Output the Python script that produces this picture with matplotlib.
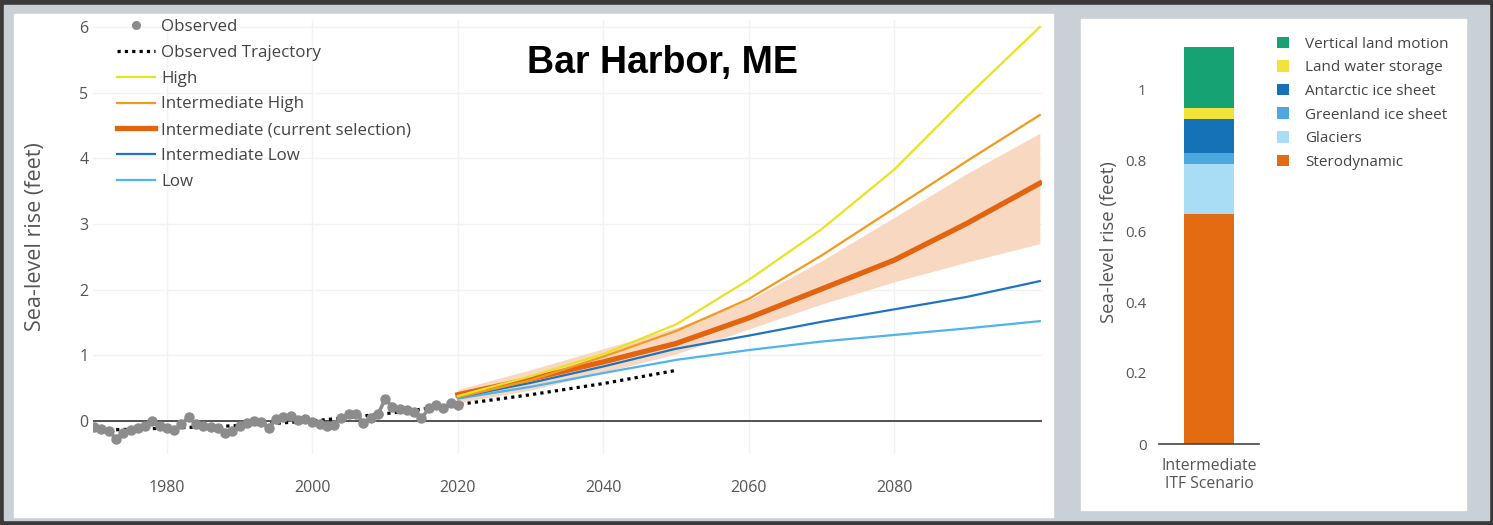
import matplotlib
matplotlib.use("Agg")
import matplotlib.pyplot as plt
from matplotlib.lines import Line2D
from matplotlib.patches import Rectangle

# observed annual sea level at Bar Harbor (feet)
obs_years = list(range(1970, 2021))
obs_vals = [-0.09, -0.12, -0.15, -0.27, -0.18, -0.14, -0.11, -0.08, 0.00, -0.08,
            -0.10, -0.14, -0.05, 0.06, -0.05, -0.07, -0.09, -0.10, -0.19, -0.16,
            -0.08, -0.03, 0.00, -0.01, -0.10, 0.03, 0.06, 0.08, 0.02, 0.03,
            -0.01, -0.04, -0.07, -0.06, 0.04, 0.10, 0.11, -0.03, 0.05, 0.10,
            0.33, 0.22, 0.18, 0.16, 0.14, 0.04, 0.19, 0.24, 0.20, 0.27, 0.25]

traj_years = [1971, 1980, 1990, 2000, 2010, 2020, 2030, 2040, 2050]
traj_vals = [-0.14, -0.11, -0.07, 0.00, 0.11, 0.25, 0.40, 0.57, 0.77]

proj_years = [2020, 2030, 2040, 2050, 2060, 2070, 2080, 2090, 2100]
high = [0.38, 0.68, 1.02, 1.47, 2.15, 2.92, 3.83, 4.94, 6.00]
int_high = [0.36, 0.62, 0.98, 1.37, 1.86, 2.52, 3.24, 3.96, 4.66]
intermediate = [0.40, 0.64, 0.90, 1.18, 1.57, 2.01, 2.45, 3.01, 3.62]
int_low = [0.36, 0.58, 0.83, 1.10, 1.30, 1.51, 1.70, 1.89, 2.13]
low = [0.34, 0.52, 0.73, 0.93, 1.08, 1.21, 1.31, 1.41, 1.52]
band_upper = [0.48, 0.78, 1.10, 1.42, 1.84, 2.44, 3.10, 3.77, 4.38]
band_lower = [0.28, 0.47, 0.74, 1.02, 1.40, 1.78, 2.12, 2.42, 2.70]

# contributions, intermediate scenario (bottom to top)
comp_names = ['Sterodynamic', 'Glaciers', 'Greenland ice sheet',
              'Antarctic ice sheet', 'Land water storage', 'Vertical land motion']
comp_vals = [0.647, 0.141, 0.032, 0.095, 0.032, 0.172]
comp_colors = ['#E36C13', '#A9DDF6', '#4DA8E0', '#1572B6', '#F1E23C', '#17A273']

W, H = 1493, 525
FONT = 'Open Sans'
TXT = '#444444'


def fx(px):
    return px / W


def fy(py):
    return 1 - py / H


fig = plt.figure(figsize=(W / 100, H / 100), dpi=100, facecolor='#3a3a3a')
fig.patches.append(Rectangle((fx(4), fy(520)), fx(1489) - fx(4), (520 - 5) / H,
                             transform=fig.transFigure, color='#c9d0d6', zorder=-5))
fig.patches.append(Rectangle((fx(14), fy(517)), fx(1053) - fx(14), (517 - 14) / H,
                             transform=fig.transFigure, color='white', zorder=-4))
fig.patches.append(Rectangle((fx(1081), fy(510)), fx(1466) - fx(1081), (510 - 19) / H,
                             transform=fig.transFigure, color='white', zorder=-4))

# ---- left: scenarios ----
ax = fig.add_axes([fx(92.7), fy(453.8), fx(1042) - fx(92.7), (453.8 - 20.4) / H])
ax.set_xlim(1969.8, 2100.3)
ax.set_ylim(-0.5, 6.1)
for s in ax.spines.values():
    s.set_visible(False)
ax.set_xticks([1980, 2000, 2020, 2040, 2060, 2080])
ax.set_yticks(range(0, 7))
ax.tick_params(length=0, labelsize=11.5, labelcolor='#555555')
ax.tick_params(axis='x', pad=19)
ax.tick_params(axis='y', pad=3)
for lab in ax.get_xticklabels() + ax.get_yticklabels():
    lab.set_family(FONT)
ax.grid(True, color='#f2f2f2', lw=1)
ax.set_axisbelow(True)
ax.set_ylabel('Sea-level rise (feet)', fontsize=15.5, color='#555555', family=FONT, labelpad=24)

ax.fill_between(proj_years, band_lower, band_upper, color='#F8D8C0', lw=0, zorder=1)
ax.axhline(0, color='#444444', lw=1.3, zorder=1.5)
ax.plot(proj_years, low, color='#4FB3EC', lw=1.6, zorder=2)
ax.plot(proj_years, int_low, color='#1E74C2', lw=1.6, zorder=2)
ax.plot(proj_years, intermediate, color='#E3640F', lw=3.8, zorder=2.5)
ax.plot(proj_years, int_high, color='#F39A1C', lw=1.6, zorder=2.6)
ax.plot(proj_years, high, color='#E9E221', lw=1.6, zorder=2.7)
ax.plot(traj_years, traj_vals, color='black', lw=2.3, ls=(0, (1, 1.3)),
        dash_capstyle='butt', zorder=3)
ax.plot(obs_years, obs_vals, color='#8c8c8c', lw=2.6, marker='o', ms=6.5,
        mec='#8c8c8c', mfc='#8c8c8c', zorder=4)

handles = [
    Line2D([], [], color='#8c8c8c', marker='o', ms=5.5, ls='none'),
    Line2D([], [], color='black', lw=2.3, ls=(0, (1, 1.3)), dash_capstyle='butt'),
    Line2D([], [], color='#E9E221', lw=1.6),
    Line2D([], [], color='#F39A1C', lw=1.6),
    Line2D([], [], color='#E3640F', lw=3.8),
    Line2D([], [], color='#1E74C2', lw=1.6),
    Line2D([], [], color='#4FB3EC', lw=1.6),
]
labels = ['Observed', 'Observed Trajectory', 'High', 'Intermediate High',
          'Intermediate (current selection)', 'Intermediate Low', 'Low']
leg = fig.legend(handles, labels, loc='upper left', bbox_to_anchor=(fx(117), fy(19)),
                 frameon=False, borderpad=0, borderaxespad=0, handlelength=2.25,
                 handletextpad=0.35, labelspacing=0.58, prop={'family': FONT, 'size': 12.2})
for t in leg.get_texts():
    t.set_color(TXT)

fig.text(fx(662), fy(73), 'Bar Harbor, ME', ha='center', va='baseline',
         fontsize=27, fontweight='bold', family='Liberation Sans', color='black')

# ---- right: contributions bar ----
bx = fig.add_axes([fx(1159), fy(444), fx(1259) - fx(1159), (444 - 39.3) / H])
bx.set_xlim(-1, 1)
bx.set_ylim(0, 1.14)
bottom = 0
for name, val, col in zip(comp_names, comp_vals, comp_colors):
    bx.bar(0, val, width=1, bottom=bottom, color=col, label=name)
    bottom += val
for s in bx.spines.values():
    s.set_visible(False)
bx.axhline(0, color='#444444', lw=1.2, clip_on=False)
bx.set_yticks([0, 0.2, 0.4, 0.6, 0.8, 1])
bx.set_yticklabels(['0', '0.2', '0.4', '0.6', '0.8', '1'])
bx.set_xticks([0])
bx.set_xticklabels(['Intermediate\nITF Scenario'])
bx.tick_params(length=0, labelsize=10.8, labelcolor='#555555')
bx.tick_params(axis='x', pad=10)
bx.tick_params(axis='y', pad=9)
for lab in bx.get_xticklabels() + bx.get_yticklabels():
    lab.set_family(FONT)
for lab in bx.get_xticklabels():
    lab.set_fontsize(11.3)
bx.set_ylabel('Sea-level rise (feet)', fontsize=13.3, color='#555555', family=FONT, labelpad=5)

bh, bl = bx.get_legend_handles_labels()
leg2 = fig.legend(bh[::-1], bl[::-1], loc='upper left', bbox_to_anchor=(fx(1277), fy(36.5)),
                  frameon=False, borderpad=0, borderaxespad=0, handlelength=0.8,
                  handleheight=0.8, handletextpad=1.05, labelspacing=0.555,
                  prop={'family': FONT, 'size': 11})
for t in leg2.get_texts():
    t.set_color(TXT)

fig.savefig('out.png', dpi=100, facecolor=fig.get_facecolor())
